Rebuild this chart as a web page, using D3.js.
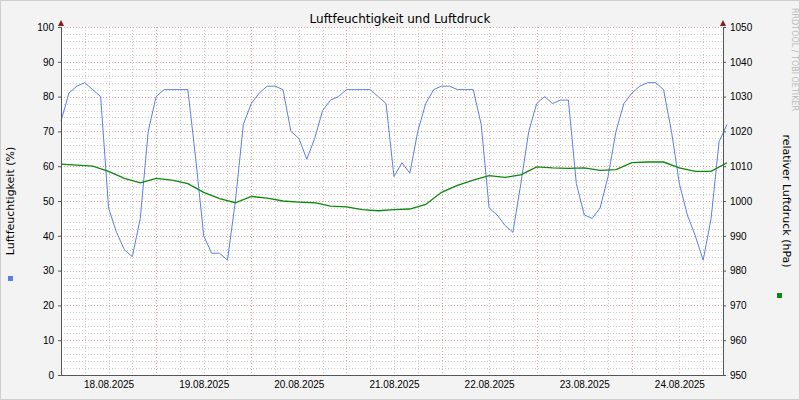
<!DOCTYPE html>
<meta charset="utf-8">
<head>
<style>
  body { margin: 0; background: #fff; }
  svg { font-family: "DejaVu Sans", sans-serif; }
  .tick text { font-size: 10px; fill: #000; }
</style>
</head>
<body>
<script src="https://d3js.org/d3.v7.min.js"></script>
<script>
// humidity, every 2 hours from 18.08.2025 00:00
var humidity = [73,81,83,84,82,80,48,41,36,34,45,70,
  80,82,82,82,82,62,40,35,35,33,50,72,
  78,81,83,83,82,70,68,62,68,76,79,80,
  82,82,82,82,80,78,57,61,58,70,78,82,
  83,83,82,82,82,72,48,46,43,41,55,70,
  78,80,78,79,79,55,46,45,48,57,70,78,
  81,83,84,84,82,70,55,46,40,33,45,67,72];
// pressure, every 4 hours
var pressure = [1010.6,1010.3,1010,1008.5,1006.5,1005.2,
  1006.5,1006,1005,1002.5,1000.7,999.5,
  1001.3,1000.8,1000,999.7,999.5,998.5,
  998.3,997.5,997.2,997.5,997.7,999,
  1002.5,1004.5,1006,1007.3,1006.8,1007.5,
  1009.8,1009.5,1009.4,1009.5,1008.8,1009,
  1011,1011.2,1011.2,1009.5,1008.5,1008.5,1011];
var dayLabels = ["18.08.2025","19.08.2025","20.08.2025","21.08.2025","22.08.2025","23.08.2025","24.08.2025"];
var leftTicks = [0,10,20,30,40,50,60,70,80,90,100];
var rightTicks = [950,960,970,980,990,1000,1010,1020,1030,1040,1050];

var W = 800, H = 400, L = 61, R = 723, T = 27, B = 375;
var svg = d3.select("body").append("svg").attr("width", W).attr("height", H);
svg.append("rect").attr("width", W).attr("height", H).attr("fill", "#f3f3f3");
svg.append("rect").attr("x", 0.5).attr("y", 0.5).attr("width", W-1).attr("height", H-1)
  .attr("fill", "none").attr("stroke", "#cfcfcf");
svg.append("rect").attr("x", L).attr("y", T).attr("width", R-L).attr("height", B-T).attr("fill", "#fff");

var x = d3.scaleLinear().domain([0, 167]).range([L, R]);
var yL = d3.scaleLinear().domain([0, 100]).range([B, T]);
var yR = d3.scaleLinear().domain([950, 1050]).range([B, T]);

// grid
var g = svg.append("g");
d3.range(0, 101, 2).forEach(function(v) {
  if (v % 10 == 0) return;
  g.append("line").attr("x1", L).attr("x2", R).attr("y1", Math.round(yL(v))+0.5).attr("y2", Math.round(yL(v))+0.5)
    .attr("stroke", "#ccc").attr("stroke-dasharray", "1,2");
});
d3.range(6, 168, 6).forEach(function(h) {
  if (h % 24 == 0) return;
  g.append("line").attr("y1", T).attr("y2", B).attr("x1", Math.round(x(h))+0.5).attr("x2", Math.round(x(h))+0.5)
    .attr("stroke", "#ccc").attr("stroke-dasharray", "1,2");
});
leftTicks.forEach(function(v) {
  if (v == 0) return;
  g.append("line").attr("x1", L).attr("x2", R).attr("y1", Math.round(yL(v))+0.5).attr("y2", Math.round(yL(v))+0.5)
    .attr("stroke", "#e8a0a0").attr("stroke-dasharray", "1,2");
});
d3.range(24, 168, 24).forEach(function(h) {
  g.append("line").attr("y1", T).attr("y2", B).attr("x1", Math.round(x(h))+0.5).attr("x2", Math.round(x(h))+0.5)
    .attr("stroke", "#e8a0a0").attr("stroke-dasharray", "1,2");
});

// lines
svg.append("path").datum(humidity)
  .attr("d", d3.line().x(function(d, i) { return x(i*2); }).y(function(d) { return yL(d); }))
  .attr("fill", "none").attr("stroke", "#5b7fe6").attr("stroke-width", 1);
svg.append("path").datum(pressure)
  .attr("d", d3.line().x(function(d, i) { return x(i*4); }).y(function(d) { return yR(d); }))
  .attr("fill", "none").attr("stroke", "#0a8a0a").attr("stroke-width", 1.3);

// axes
svg.append("g").attr("transform", "translate(" + L + ",0)")
  .call(d3.axisLeft(yL).tickValues(leftTicks).tickSize(3).tickPadding(4))
  .call(function(a) { a.select(".domain").attr("stroke", "#555"); a.selectAll("line").attr("stroke", "#555"); });
svg.append("g").attr("transform", "translate(" + R + ",0)")
  .call(d3.axisRight(yR).tickValues(rightTicks).tickFormat(d3.format("d")).tickSize(3).tickPadding(4))
  .call(function(a) { a.select(".domain").attr("stroke", "#555"); a.selectAll("line").attr("stroke", "#555"); });
svg.append("g").attr("transform", "translate(0," + B + ")")
  .call(d3.axisBottom(x).tickValues(d3.range(12, 168, 24)).tickFormat(function(d, i) { return dayLabels[i]; }).tickSize(0).tickPadding(6))
  .call(function(a) { a.select(".domain").attr("stroke", "#555"); });

// arrows
[L, R].forEach(function(px) {
  svg.append("path").attr("d", "M" + (px-3) + "," + (T-1) + "L" + (px+3) + "," + (T-1) + "L" + px + "," + (T-7) + "Z").attr("fill", "#8b1a1a");
});

svg.append("text").attr("x", 400).attr("y", 23).attr("text-anchor", "middle").attr("font-size", 12)
  .text("Luftfeuchtigkeit und Luftdruck");
svg.append("text").attr("transform", "translate(14,201) rotate(-90)").attr("text-anchor", "middle").attr("font-size", 11)
  .text("Luftfeuchtigkeit (%)");
svg.append("text").attr("transform", "translate(783,201) rotate(90)").attr("text-anchor", "middle").attr("font-size", 11)
  .text("relativer Luftdruck (hPa)");
svg.append("rect").attr("x", 8).attr("y", 276).attr("width", 5).attr("height", 5).attr("fill", "#5b7fe6");
svg.append("rect").attr("x", 777).attr("y", 293).attr("width", 5).attr("height", 5).attr("fill", "#0a8a0a");
svg.append("text").attr("transform", "translate(792,8) rotate(90)").attr("font-size", 8).attr("fill", "#bbb")
  .text("RRDTOOL / TOBI OETIKER");
</script>
</body>
